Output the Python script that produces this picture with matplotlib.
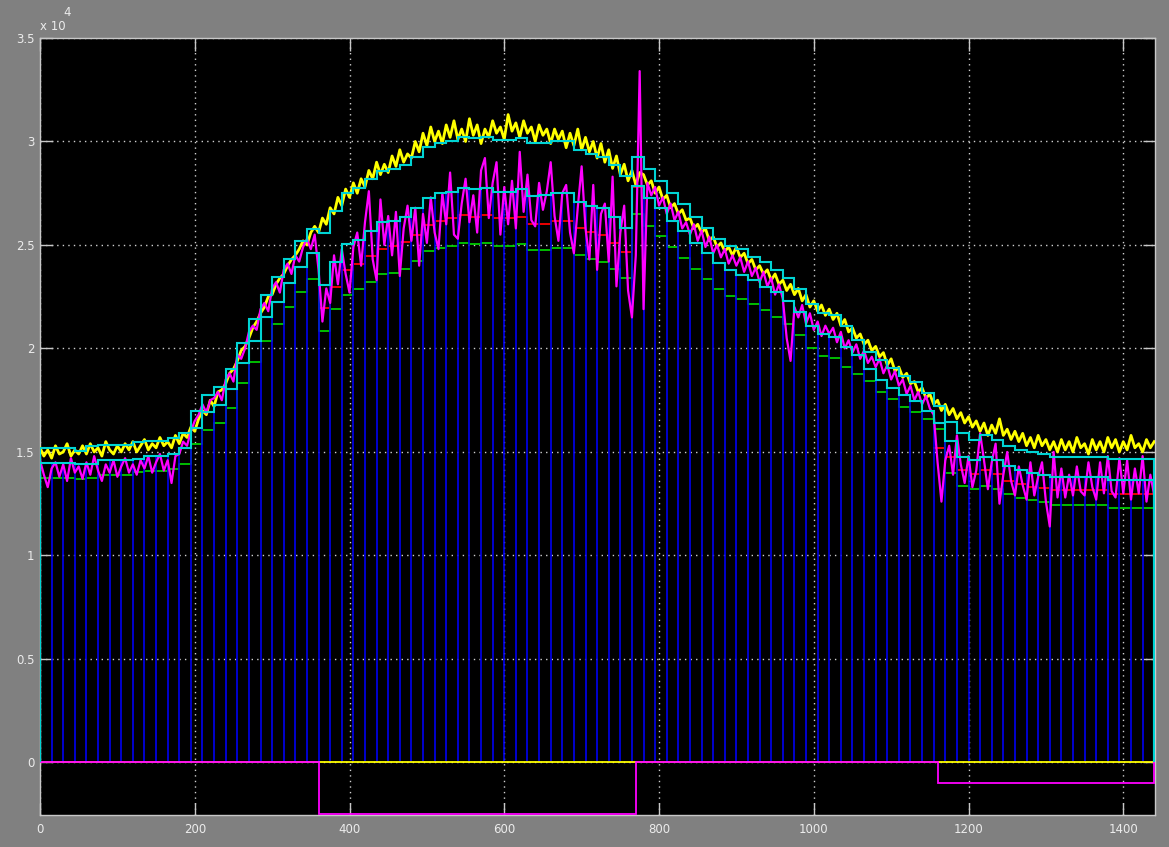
import numpy as np
import matplotlib
matplotlib.use("Agg")
import matplotlib.pyplot as plt
from matplotlib.ticker import FuncFormatter

nan = np.nan
SCALE = 1000.0  # all signal values below are written in thousands

# time axis of the fast signals (one sample read every 5 s) and of the 15 s blocks
t_fast = np.arange(0, 1441, 5)
edges = np.arange(0, 1441, 15)

# yellow signal (upper noisy trace)
yellow = [
    15.2, 14.8, 15.1, 14.7, 15.3, 14.9, 15.0, 15.4, 14.8, 15.1, 14.9, 15.3,
    14.9, 15.4, 15.0, 15.2, 14.8, 15.5, 15.1, 14.9, 15.3, 15.0, 15.4, 15.1,
    15.5, 15.0, 15.3, 15.6, 15.1, 15.4, 15.2, 15.7, 15.3, 15.5, 15.2, 15.8,
    15.4, 15.9, 15.7, 16.2, 16.0, 16.6, 17.0, 16.8, 17.5, 17.2, 17.9, 18.0,
    18.3, 18.8, 19.0, 19.4, 19.9, 20.1, 20.5, 21.0, 21.3, 21.7, 22.0, 22.5,
    22.6, 23.1, 23.4, 23.6, 24.0, 24.3, 24.5, 24.8, 25.2, 25.0, 25.6, 25.9,
    25.6, 26.3, 26.0, 26.8, 26.5, 27.3, 26.9, 27.7, 27.3, 28.0, 27.5, 28.2,
    27.8, 28.6, 28.2, 29.0, 28.4, 28.9, 28.5, 29.3, 28.8, 29.6, 29.0, 29.4,
    29.2, 30.0, 29.5, 30.4, 29.8, 30.7, 30.0, 30.5, 29.9, 30.8, 30.2, 31.0,
    30.1, 30.6, 30.0, 31.1, 30.3, 30.8, 29.9, 30.6, 30.2, 31.0, 30.4, 30.7,
    30.1, 31.3, 30.5, 30.9, 30.2, 31.0, 30.4, 30.7, 30.0, 30.8, 30.3, 30.6,
    29.9, 30.6, 30.1, 30.5, 29.7, 30.4, 29.8, 30.6, 29.6, 30.2, 29.5, 30.0,
    29.2, 29.9, 29.0, 29.6, 28.7, 29.3, 28.4, 28.9, 28.1, 28.6, 27.9, 28.5,
    28.4, 27.9, 28.1, 27.5, 27.8, 27.2, 27.4, 26.8, 27.0, 26.5, 26.7, 26.2,
    26.3, 25.8, 26.0, 25.6, 25.8, 25.2, 25.4, 24.9, 25.1, 24.7, 24.9, 24.5,
    24.9, 24.4, 24.6, 24.1, 24.3, 23.8, 24.0, 23.6, 23.8, 23.3, 23.6, 23.1,
    23.3, 22.8, 23.1, 22.6, 22.9, 22.3, 22.6, 22.0, 22.3, 21.8, 22.1, 21.6,
    21.9, 21.4, 21.7, 21.1, 21.4, 20.8, 21.0, 20.5, 20.7, 20.2, 20.4, 19.9,
    20.1, 19.6, 19.8, 19.2, 19.5, 18.9, 19.1, 18.6, 18.8, 18.3, 18.4, 17.9,
    18.1, 17.6, 17.8, 17.3, 17.5, 17.0, 17.3, 16.8, 17.1, 16.6, 16.9, 16.4,
    16.7, 16.2, 16.5, 16.0, 16.4, 15.8, 16.3, 15.9, 16.6, 15.8, 16.1, 15.6,
    16.0, 15.5, 15.9, 15.3, 15.7, 15.2, 15.8, 15.3, 15.6, 15.1, 15.5, 15.0,
    15.6, 15.1, 15.5, 15.0, 15.7, 15.2, 15.4, 14.9, 15.6, 15.1, 15.5, 15.0,
    15.7, 15.2, 15.6, 15.0, 15.5, 15.1, 15.8, 15.2, 15.4, 15.0, 15.6, 15.2,
    15.5,
]

# magenta signal (lower noisy trace)
magenta = [
    14.6, 13.9, 13.3, 14.2, 14.5, 13.8, 14.4, 13.6, 14.7, 14.0, 14.3, 13.7,
    14.5, 13.9, 14.8, 14.1, 13.6, 14.4, 14.0, 14.6, 13.8, 14.3, 14.7, 14.0,
    14.4, 13.9, 14.6, 14.2, 14.8, 14.0, 14.5, 14.9, 14.1, 14.6, 13.5, 14.8,
    14.9, 15.5, 15.3, 16.0, 16.5, 16.8, 17.3, 16.9, 17.5, 17.6, 17.9, 17.5,
    18.5, 18.8, 18.4, 19.7, 19.5, 20.0, 20.8, 21.1, 20.9, 21.9, 22.2, 21.8,
    22.9, 23.2, 22.7, 23.8, 24.1, 23.6, 24.5, 24.2, 24.9, 25.3, 24.8, 25.5,
    23.8, 21.3, 22.9, 22.2, 24.5, 23.1, 24.8, 23.6, 22.7, 24.9, 25.6, 24.0,
    26.1, 27.6, 24.3, 23.3, 27.2, 25.0, 26.4, 24.5, 26.6, 23.5, 25.8, 26.9,
    25.2, 26.8, 24.0, 26.5, 25.1, 27.3, 25.6, 24.8, 27.5, 26.0, 28.5, 25.5,
    25.3, 27.0, 28.2, 26.1, 27.4, 25.6, 28.6, 29.2, 26.3, 28.0, 29.0, 25.5,
    27.8, 26.0, 28.1, 25.8, 29.5, 26.6, 28.4, 26.2, 25.9, 28.0, 26.7, 27.6,
    29.0, 26.4, 25.2, 27.5, 27.9, 25.6, 24.6, 26.8, 28.8, 25.8, 24.3, 27.9,
    23.8, 26.5, 27.0, 24.2, 28.3, 23.0, 25.6, 26.9, 22.8, 21.5, 24.5, 33.4,
    21.9, 28.0, 27.4, 27.8, 26.9, 27.3, 26.5, 27.0, 26.2, 26.6, 25.8, 26.1,
    25.5, 26.0, 25.2, 25.7, 24.9, 25.4, 24.6, 25.0, 24.4, 24.8, 24.1, 24.5,
    24.0, 24.4, 23.7, 24.2, 23.5, 23.9, 23.2, 23.7, 23.0, 23.4, 22.6, 23.1,
    22.4, 20.5, 19.4, 22.0, 21.5, 22.1, 21.2, 21.7, 20.9, 21.3, 20.6, 21.1,
    20.7, 21.0, 20.3, 20.8, 20.0, 20.4, 19.8, 20.2, 19.5, 19.9, 19.3, 19.6,
    19.1, 19.5, 18.8, 19.2, 18.5, 18.9, 18.2, 18.5, 17.8, 18.2, 17.5, 17.9,
    17.3, 17.7, 17.1, 16.8, 14.5, 12.6, 14.6, 15.3, 13.9, 15.8, 14.4, 13.5,
    14.8, 13.3, 14.1, 15.9, 14.6, 13.2, 14.5, 15.4, 12.5, 13.9, 15.0, 13.6,
    12.9, 14.3, 13.4, 12.7, 14.5, 12.9, 13.8, 14.5, 12.6, 11.4, 15.0, 12.8,
    14.2, 12.8, 13.9, 12.9, 14.3, 13.1, 12.9, 14.5, 13.3, 12.7, 14.5, 13.0,
    14.8, 13.1, 12.8, 14.7, 13.0, 14.6, 12.7, 14.2, 13.0, 14.8, 12.6, 13.9,
    12.9,
]

# 15 s block values (96 blocks)
upper_cyan = [
    15.19, 15.19, 15.19, 15.07, 15.31, 15.35, 15.35, 15.35, 15.46, 15.51, 15.51, 15.67,
    15.90, 16.99, 17.76, 18.15, 19.01, 20.27, 21.43, 22.59, 23.45, 24.32, 25.19, 25.77,
    25.58, 26.64, 27.51, 27.75, 28.18, 28.57, 28.67, 28.86, 29.25, 29.73, 29.92, 30.02,
    30.21, 30.16, 30.21, 30.07, 30.07, 30.16, 29.92, 29.94, 30.02, 30.02, 29.58, 29.39,
    29.26, 28.86, 28.34, 29.26, 28.65, 28.10, 27.49, 26.96, 26.36, 25.80, 25.29, 24.95,
    24.79, 24.43, 24.16, 23.79, 23.42, 22.86, 22.15, 21.73, 21.62, 21.09, 20.41, 19.85,
    19.45, 19.08, 18.69, 18.37, 17.84, 17.20, 16.47, 15.91, 15.59, 15.83, 15.59, 15.31,
    15.10, 14.98, 14.91, 14.78, 14.78, 14.78, 14.78, 14.78, 14.67, 14.67, 14.67, 14.67,
]
lower_cyan = [
    14.49, 14.49, 14.49, 14.43, 14.43, 14.59, 14.59, 14.59, 14.67, 14.82, 14.82, 14.91,
    15.19, 16.17, 16.94, 17.28, 18.05, 19.30, 20.37, 21.52, 22.25, 23.16, 23.94, 24.61,
    23.07, 24.18, 25.05, 25.24, 25.67, 26.11, 26.17, 26.35, 26.78, 27.27, 27.51, 27.56,
    27.75, 27.70, 27.75, 27.56, 27.56, 27.69, 27.36, 27.41, 27.49, 27.49, 27.06, 26.88,
    26.77, 26.34, 25.80, 27.85, 27.25, 26.77, 26.16, 25.67, 25.08, 24.60, 24.11, 23.79,
    23.55, 23.31, 22.99, 22.72, 22.30, 21.78, 21.09, 20.69, 20.57, 20.06, 19.70, 19.00,
    18.48, 18.08, 17.76, 17.44, 17.00, 16.40, 15.51, 14.78, 14.62, 14.78, 14.62, 14.30,
    14.14, 13.98, 13.87, 13.80, 13.80, 13.80, 13.80, 13.80, 13.66, 13.66, 13.66, 13.66,
]
green = [
    13.74, 13.74, 13.74, 13.69, 13.74, 13.87, 13.87, 13.87, 14.01, 14.06, 14.06, 14.17,
    14.43, 15.39, 16.07, 16.41, 17.13, 18.34, 19.35, 20.37, 21.19, 22.00, 22.73, 23.36,
    20.85, 21.91, 22.59, 22.88, 23.23, 23.60, 23.66, 23.84, 24.23, 24.71, 24.87, 24.95,
    25.11, 25.05, 25.11, 24.95, 24.95, 25.05, 24.76, 24.76, 24.87, 24.87, 24.52, 24.32,
    24.19, 23.84, 23.42, 26.48, 25.93, 25.45, 24.89, 24.39, 23.84, 23.36, 22.88, 22.55,
    22.39, 22.14, 21.86, 21.54, 21.17, 20.66, 20.01, 19.64, 19.53, 19.10, 18.79, 18.44,
    17.92, 17.57, 17.15, 16.91, 16.60, 16.12, 13.98, 13.37, 13.21, 13.37, 13.21, 12.97,
    12.77, 12.66, 12.58, 12.45, 12.45, 12.45, 12.45, 12.45, 12.29, 12.29, 12.29, 12.29,
]
red = [
    nan, nan, nan, nan, nan, nan, nan, nan, nan, nan, nan, nan,
    nan, nan, nan, nan, nan, nan, nan, nan, nan, nan, nan, nan,
    21.97, 22.99, 23.79, 24.08, 24.47, 24.82, 24.95, 25.14, 25.50, 25.98, 26.17, 26.30,
    26.46, 26.35, 26.46, 26.30, 26.30, 26.34, 26.01, 26.01, 26.17, 26.17, 25.80, 25.61,
    25.48, 25.11, 24.65, 27.80, nan, nan, nan, nan, nan, nan, nan, nan,
    nan, nan, nan, nan, nan, nan, nan, nan, nan, nan, nan, nan,
    nan, nan, nan, nan, nan, 15.19, 14.78, 14.14, 13.93, 14.14, 13.93, 13.62,
    13.45, 13.33, 13.26, 13.14, 13.14, 13.14, 13.14, 13.14, 12.97, 12.97, 12.97, 12.97,
]

# mode signal near zero (magenta) and zero reference (yellow)
mode_edges = [0, 360, 770, 1160, 1440]
mode_vals = [0, -2500, 0, -1000]
zero_t = [0, 1440]
zero_vals = [0, 0]

assert len(yellow) == len(t_fast) and len(magenta) == len(t_fast)
for s in (upper_cyan, lower_cyan, green, red):
    assert len(s) == len(edges) - 1

W, H = 1169, 847
fig = plt.figure(figsize=(W / 100, H / 100), dpi=100, facecolor="#808080")
ax = fig.add_axes([40 / W, 1 - 815 / H, (1155 - 40) / W, (815 - 38) / H])
ax.set_facecolor("black")

YEL, MAG, CYA = "#ffff00", "#ff00ff", "#00d4d4"
BLU, RED, GRN = "#0000f0", "#ff0000", "#00cc00"


def block_line(vals, **kw):
    v = np.asarray(vals, dtype=float) * SCALE
    ax.plot(edges, np.append(v, v[-1]), drawstyle="steps-post", **kw)


block_line(red, color=RED, lw=1.3, zorder=2)
block_line(green, color=GRN, lw=1.3, zorder=2)

lc = np.asarray(lower_cyan) * SCALE
ax.vlines(edges, 0, np.append(lc, lc[-1]), colors=BLU, lw=1.2, zorder=3)

ax.plot(t_fast, np.asarray(yellow) * SCALE, color=YEL, lw=2.0, zorder=4)
ax.plot(t_fast, np.asarray(magenta) * SCALE, color=MAG, lw=1.6, zorder=5)

ax.stairs(np.asarray(upper_cyan) * SCALE, edges, baseline=0, color=CYA, lw=1.5, zorder=6)
ax.stairs(lc, edges, baseline=0, color=CYA, lw=1.5, zorder=6)

ax.plot(zero_t, zero_vals, color=YEL, lw=1.3, zorder=4)
ax.stairs(mode_vals, mode_edges, color=MAG, lw=1.3, zorder=5, clip_on=False)

ax.set_xlim(0, 1441)
ax.set_ylim(-2540, 35000)
ax.set_xticks(range(0, 1401, 200))
ax.set_yticks(np.arange(0, 35001, 5000))
ax.yaxis.set_major_formatter(FuncFormatter(lambda v, p: f"{v / 1e4:g}"))

ax.set_axisbelow(True)
ax.grid(True, color="#d0d0d0", linestyle=(0, (1, 3)), linewidth=1.0)
ax.tick_params(direction="in", length=9, width=1, colors="#c8c8c8",
               labelcolor="#ececec", labelsize=8.5, top=True, right=True)
ax.tick_params(axis="x", pad=6)
ax.tick_params(axis="y", pad=4)
for sp in ax.spines.values():
    sp.set_color("#c8c8c8")
    sp.set_linewidth(1.0)

fig.text(40 / W, 1 - 27 / H, "x 10", color="#ececec", fontsize=8.5, va="center", ha="left")
fig.text(63 / W, 1 - 13 / H, "4", color="#ececec", fontsize=8.5, va="center", ha="left")

fig.savefig("out.png", dpi=100, facecolor=fig.get_facecolor())
